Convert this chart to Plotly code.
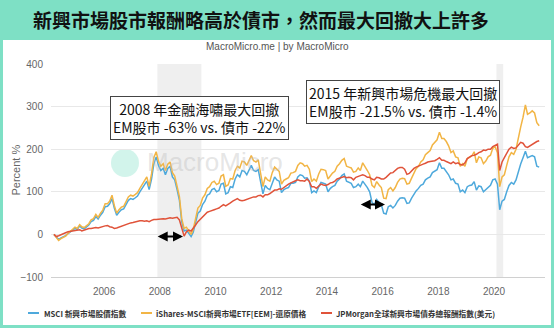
import pandas as pd
import plotly.graph_objects as go

# Monthly cumulative return (%) since March 2004
start_month = "2004-03-01"

msci_em = [
    0, -5, -12, -8, -6, -3, 2, 5, 10, 14,                      # 2004 Mar-Dec
    12, 20, 15, 13, 18, 22, 30, 33, 42, 36, 45, 52,            # 2005
    65, 66, 72, 84, 62, 45, 52, 58, 60, 70, 80, 84,            # 2006
    82, 86, 90, 100, 108, 115, 125, 105, 130, 165, 182, 162,   # 2007
    150, 155, 140, 155, 160, 135, 128, 105, 80, 30, 8, 10,     # 2008
    2, -5, 5, 25, 50, 55, 70, 78, 92, 95, 105, 108,            # 2009
    100, 103, 118, 120, 95, 98, 112, 110, 130, 140, 135, 150,  # 2010
    148, 140, 150, 162, 150, 148, 152, 120, 95, 115, 108, 105, # 2011
    122, 135, 128, 125, 98, 105, 108, 110, 120, 120, 122, 135, # 2012
    140, 138, 132, 133, 125, 98, 102, 98, 112, 122, 120, 118,  # 2013
    100, 108, 112, 115, 125, 130, 138, 142, 125, 122, 120, 110,# 2014
    112, 118, 112, 125, 118, 110, 100, 75, 70, 82, 75, 70,     # 2015
    50, 48, 65, 68, 62, 68, 78, 85, 86, 85, 73, 74,            # 2016
    85, 95, 102, 108, 115, 118, 128, 132, 135, 145, 148, 152,  # 2017
    168, 155, 155, 148, 140, 128, 130, 120, 118, 100, 104, 98, # 2018
    112, 115, 116, 124, 104, 114, 112, 100, 105, 112, 115, 128,# 2019
    130, 118, 58, 78, 82, 100, 115, 122, 118, 128, 150, 165,   # 2020
    180, 195, 180, 182, 185, 182, 160, 158,                    # 2021 Jan-Aug
]

eem_total = [
    0, -8, -14, -10, -7, -4, 2, 6, 12, 17,
    14, 23, 18, 16, 21, 25, 34, 37, 47, 40, 50, 57,
    72, 72, 78, 92, 68, 50, 58, 64, 66, 77, 88, 92,
    90, 94, 98, 108, 117, 124, 135, 113, 142, 180, 194, 172,
    160, 166, 150, 165, 170, 145, 137, 113, 88, 37, 14, 17,
    8, 0, 12, 35, 62, 68, 85, 93, 108, 112, 122, 125,
    117, 120, 137, 140, 113, 116, 131, 130, 150, 160, 156, 172,
    170, 162, 172, 185, 173, 170, 175, 140, 112, 135, 128, 125,
    145, 158, 152, 148, 118, 127, 130, 133, 144, 145, 148, 162,
    168, 166, 160, 162, 153, 124, 130, 125, 142, 153, 152, 150,
    130, 138, 144, 148, 160, 166, 174, 178, 160, 158, 156, 146,
    148, 156, 150, 168, 160, 150, 140, 115, 110, 124, 116, 110,
    85, 84, 105, 110, 102, 110, 122, 130, 132, 131, 118, 120,
    132, 145, 154, 160, 170, 175, 187, 192, 197, 210, 215, 222,
    240, 225, 225, 218, 208, 192, 196, 182, 180, 160, 166, 160,
    178, 182, 184, 194, 168, 182, 180, 166, 172, 182, 186, 202,
    206, 192, 112, 135, 140, 162, 182, 192, 188, 200, 230, 252,
    275, 304, 282, 285, 290, 285, 262, 255,
]

jpm_embi = [
    0, -5, -3, 0, 2, 4, 6, 7, 8, 9,
    10, 11, 8, 10, 12, 14, 14, 15, 16, 15, 17, 19,
    20, 21, 18, 17, 14, 15, 17, 20, 22, 24, 26, 27,
    28, 30, 30, 32, 32, 31, 32, 30, 33, 35, 35, 36,
    37, 37, 36, 38, 39, 38, 39, 40, 34, 12, -4, 6,
    10, 8, 14, 22, 30, 35, 42, 46, 52, 54, 57, 58,
    60, 62, 66, 70, 67, 70, 74, 78, 81, 84, 80, 79,
    80, 82, 83, 86, 88, 88, 91, 92, 88, 93, 93, 96,
    100, 104, 104, 107, 106, 110, 116, 118, 121, 124, 126, 128,
    126, 126, 125, 130, 124, 112, 112, 108, 114, 118, 116, 115,
    117, 121, 122, 125, 130, 132, 133, 136, 133, 134, 133, 128,
    134, 137, 138, 140, 138, 134, 134, 130, 128, 134, 133, 130,
    130, 134, 140, 144, 145, 150, 155, 157, 157, 153, 141, 143,
    150, 155, 158, 161, 164, 165, 167, 170, 171, 172, 173, 176,
    180, 174, 174, 171, 168, 166, 170, 166, 168, 164, 163, 168,
    178, 182, 185, 186, 188, 192, 194, 198, 197, 200, 200, 206,
    210, 212, 150, 170, 180, 190, 200, 205, 202, 203, 210, 216,
    214, 206, 204, 208, 212, 216, 218, 220,
]

series_names = [
    "MSCI 新興市場股價指數",
    "iShares-MSCI新興市場ETF[EEM]-還原價格",
    "JPMorgan全球新興市場債券總報酬指數(美元)",
]
series_colors = ["#4ea9dc", "#f2b545", "#e0533a"]

# Shaded stress periods
shade_periods = [("2007-12-01", "2009-06-30"), ("2020-02-01", "2020-04-30")]

title_text = "新興市場股市報酬略高於債市，然而最大回撤大上許多"
source_text = "MacroMicro.me | by MacroMicro"
note_2008 = "2008 年金融海嘯最大回撤<br>EM股市 -63% vs. 債市 -22%"
note_2015 = "2015 年新興市場危機最大回撤<br>EM股市 -21.5% vs. 債市 -1.4%"
y_ticks = [-100, 0, 100, 200, 300, 400]
x_ticks = ["2006", "2008", "2010", "2012", "2014", "2016", "2018", "2020"]

dates = pd.date_range(start_month, periods=len(msci_em), freq="MS") + pd.Timedelta(days=14)

W, H = 554, 328
ML, MR, MT, MB = 51, 9, 64, 51
pw, ph = W - ML - MR, H - MT - MB
TEAL = "#7ee0c5"


def px(x):
    return (x - ML) / pw


def py(y):
    return (H - MB - y) / ph


fig = go.Figure()
for vals, name, col in zip([msci_em, eem_total, jpm_embi], series_names, series_colors):
    fig.add_trace(go.Scatter(x=dates, y=vals, name=name, mode="lines",
                             line=dict(color=col, width=1.5), showlegend=False))

shapes = []
# teal frame: header band and border
shapes.append(dict(type="rect", xref="paper", yref="paper", layer="below",
                   x0=px(0), x1=px(W), y0=py(40), y1=py(0),
                   fillcolor=TEAL, line=dict(width=0)))
for (a, b, c, d) in [(0, 40, 3, H), (W - 3, 40, W, H), (0, H - 3, W, H)]:
    shapes.append(dict(type="rect", xref="paper", yref="paper", layer="below",
                       x0=px(a), x1=px(c), y0=py(d), y1=py(b),
                       fillcolor=TEAL, line=dict(width=0)))
for a, b in shade_periods:
    shapes.append(dict(type="rect", xref="x", yref="paper", layer="below",
                       x0=a, x1=b, y0=0, y1=1, fillcolor="#efefef", line=dict(width=0)))
# watermark logo circle
shapes.append(dict(type="circle", xref="paper", yref="paper", layer="below",
                   x0=px(111), x1=px(139), y0=py(177), y1=py(149),
                   fillcolor="rgba(126,224,197,0.35)", line=dict(width=0)))

annotations = [
    dict(text="<b>" + title_text + "</b>", xref="paper", yref="paper",
         x=px(261), y=py(20), showarrow=False, xanchor="center", yanchor="middle",
         font=dict(size=19, color="#111", family="Noto Sans CJK TC")),
    dict(text=source_text, xref="paper", yref="paper", x=px(W / 2), y=py(47),
         showarrow=False, xanchor="center", yanchor="middle",
         font=dict(size=10, color="#555", family="Liberation Sans")),
    dict(text="MacroMicro", xref="paper", yref="paper", x=px(145), y=py(162),
         showarrow=False, xanchor="left", yanchor="middle",
         font=dict(size=26, color="rgba(190,190,190,0.4)", family="Liberation Sans")),
    dict(text=note_2008, xref="paper", yref="paper", x=px(199), y=py(118),
         showarrow=False, xanchor="center", yanchor="middle", align="center",
         bgcolor="white", bordercolor="#444", borderwidth=1, borderpad=2,
         font=dict(size=14, color="#111", family="Noto Sans CJK TC")),
    dict(text=note_2015, xref="paper", yref="paper", x=px(403), y=py(102),
         showarrow=False, xanchor="center", yanchor="middle", align="center",
         bgcolor="white", bordercolor="#444", borderwidth=1, borderpad=2,
         font=dict(size=14, color="#111", family="Noto Sans CJK TC")),
    # drawdown spans
    dict(text="", x="2008-11-01", y=-5, ax="2007-11-15", ay=-5, xref="x", yref="y",
         axref="x", ayref="y", showarrow=True, arrowhead=2, arrowside="end+start",
         arrowsize=1, arrowwidth=2, arrowcolor="black"),
    dict(text="", x="2016-02-01", y=70, ax="2015-03-01", ay=70, xref="x", yref="y",
         axref="x", ayref="y", showarrow=True, arrowhead=2, arrowside="end+start",
         arrowsize=1, arrowwidth=2, arrowcolor="black"),
    dict(text="Percent %", xref="paper", yref="paper", x=px(15), y=0.5,
         showarrow=False, textangle=-90, xanchor="center", yanchor="middle",
         font=dict(size=11, color="#666", family="Liberation Sans")),
]

# legend row: short colour key plus label for each series
legend_keys = [(28, 42), (141, 154), (321, 334)]
for (lx, tx), name, col in zip(legend_keys, series_names, series_colors):
    shapes.append(dict(type="line", xref="paper", yref="paper",
                       x0=px(lx), x1=px(lx + 11), y0=py(313), y1=py(313),
                       line=dict(color=col, width=2)))
    annotations.append(dict(text=name, xref="paper", yref="paper", x=px(tx), y=py(313),
                            showarrow=False, xanchor="left", yanchor="middle",
                            font=dict(size=7.7, color="#333", family="Noto Sans CJK TC",
                                      weight=600)))

fig.update_layout(
    width=W, height=H,
    margin=dict(l=ML, r=MR, t=MT, b=MB),
    paper_bgcolor="white", plot_bgcolor="white",
    shapes=shapes, annotations=annotations,
    showlegend=False,
    xaxis=dict(range=["2004-02-05", "2021-10-30"], tickvals=[f"{t}-01-01" for t in x_ticks],
               ticktext=x_ticks, showgrid=False, showline=True, linecolor="#d0d0d0",
               tickfont=dict(size=10, color="#666", family="Liberation Sans"), ticks="",
               ticklabelstandoff=5),
    yaxis=dict(range=[-100, 400], tickvals=y_ticks, gridcolor="#e8e8e8", zeroline=False,
               tickfont=dict(size=10, color="#666", family="Liberation Sans"),
               ticklabelstandoff=7),
    font=dict(family="Noto Sans CJK TC"),
)

fig.write_html("out.html")
